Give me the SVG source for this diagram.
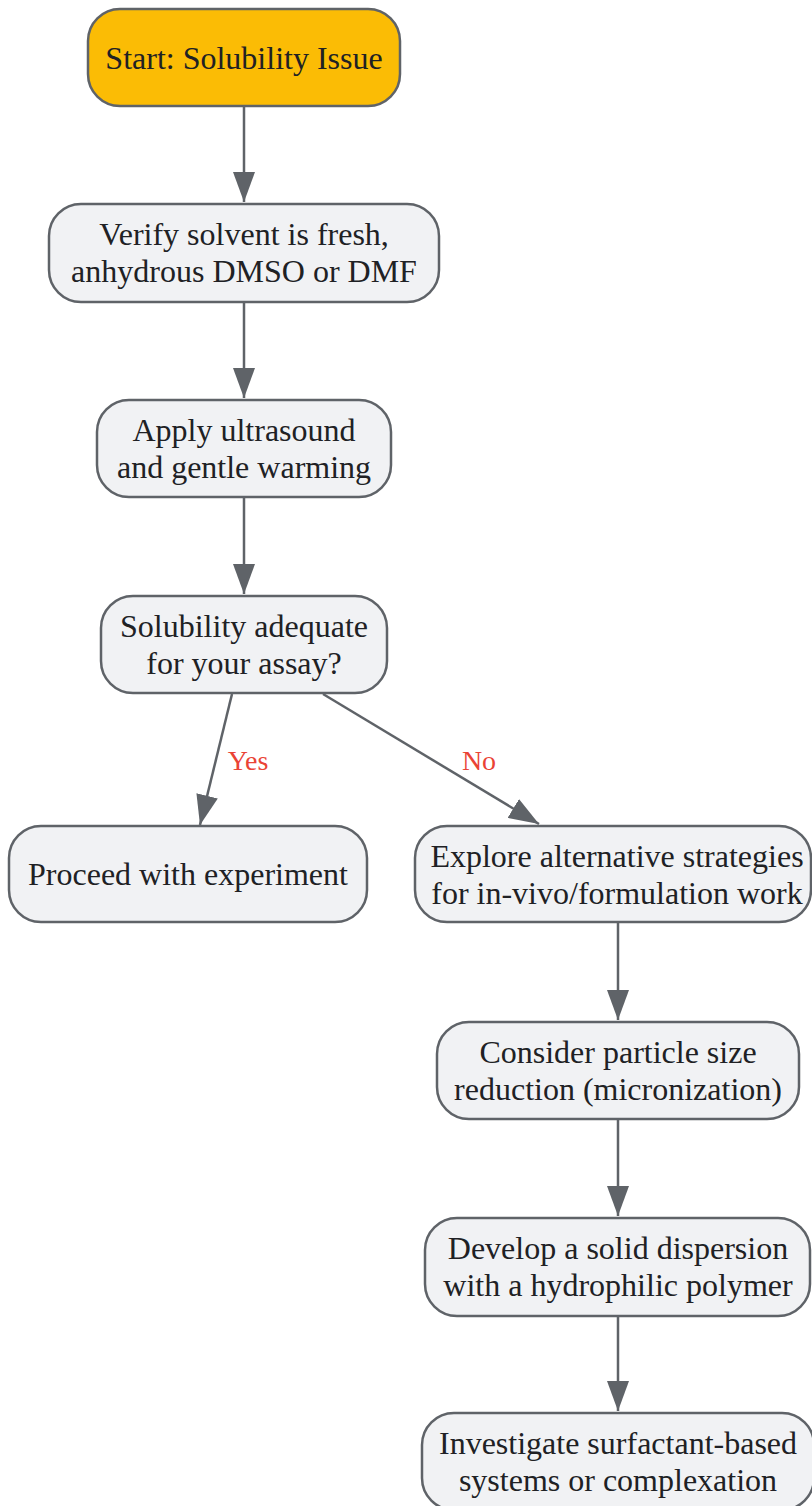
<svg xmlns="http://www.w3.org/2000/svg" width="812" height="1506" viewBox="0 0 812 1506">
<defs>
<style>
.node rect{fill:#f1f2f4;stroke:#5f6368;stroke-width:2.5}
.start rect{fill:#fbbc05}
.node text{font-family:"Liberation Serif","Times New Roman",serif;font-size:32px;fill:#202124;text-anchor:middle}
.edges line{stroke:#5f6368;stroke-width:2.5;fill:none}
.lbl{font-family:"Liberation Serif","Times New Roman",serif;font-size:28px;fill:#ea4335;text-anchor:middle}
</style>
<marker id="ah" markerUnits="userSpaceOnUse" markerWidth="30" markerHeight="22" viewBox="0 0 30 22" refX="30" refY="11" orient="auto">
<path d="M0,0 L30,11 L0,22 Z" fill="#5f6368"/>
</marker>
</defs>
<rect width="812" height="1506" fill="#ffffff"/>
<g class="edges">
<line x1="244" y1="106" x2="244" y2="202" marker-end="url(#ah)"/>
<line x1="244" y1="302" x2="244" y2="398" marker-end="url(#ah)"/>
<line x1="244" y1="497" x2="244" y2="594" marker-end="url(#ah)"/>
<line x1="232" y1="694" x2="200" y2="825" marker-end="url(#ah)"/>
<line x1="323" y1="694" x2="539" y2="824" marker-end="url(#ah)"/>
<line x1="618" y1="922" x2="618" y2="1020" marker-end="url(#ah)"/>
<line x1="618" y1="1119" x2="618" y2="1216" marker-end="url(#ah)"/>
<line x1="618" y1="1316" x2="618" y2="1411" marker-end="url(#ah)"/>
<text class="lbl" x="248" y="770">Yes</text>
<text class="lbl" x="479" y="770">No</text>
</g>
<g id="start" class="node start">
<rect x="88" y="9" width="312" height="97" rx="32"/>
<text x="244" y="69">Start: Solubility Issue</text>
</g>
<g id="verify" class="node">
<rect x="49" y="204" width="390" height="98" rx="32"/>
<text x="244" y="245">Verify solvent is fresh,</text>
<text x="244" y="282">anhydrous DMSO or DMF</text>
</g>
<g id="apply" class="node">
<rect x="97" y="400" width="294" height="97" rx="32"/>
<text x="244" y="441">Apply ultrasound</text>
<text x="244" y="478">and gentle warming</text>
</g>
<g id="adequate" class="node">
<rect x="101" y="596" width="286" height="97" rx="32"/>
<text x="244" y="637">Solubility adequate</text>
<text x="244" y="674">for your assay?</text>
</g>
<g id="proceed" class="node">
<rect x="9" y="826" width="358" height="96" rx="32"/>
<text x="188" y="885">Proceed with experiment</text>
</g>
<g id="explore" class="node">
<rect x="415" y="826" width="396" height="96" rx="32"/>
<text x="617" y="867">Explore alternative strategies</text>
<text x="617" y="904">for in-vivo/formulation work</text>
</g>
<g id="consider" class="node">
<rect x="437" y="1022" width="362" height="97" rx="32"/>
<text x="618" y="1063">Consider particle size</text>
<text x="618" y="1100">reduction (micronization)</text>
</g>
<g id="develop" class="node">
<rect x="425" y="1218" width="385" height="98" rx="32"/>
<text x="618" y="1259">Develop a solid dispersion</text>
<text x="618" y="1296">with a hydrophilic polymer</text>
</g>
<g id="investigate" class="node">
<rect x="422" y="1413" width="392" height="97" rx="32"/>
<text x="618" y="1454">Investigate surfactant-based</text>
<text x="618" y="1491">systems or complexation</text>
</g>
</svg>
